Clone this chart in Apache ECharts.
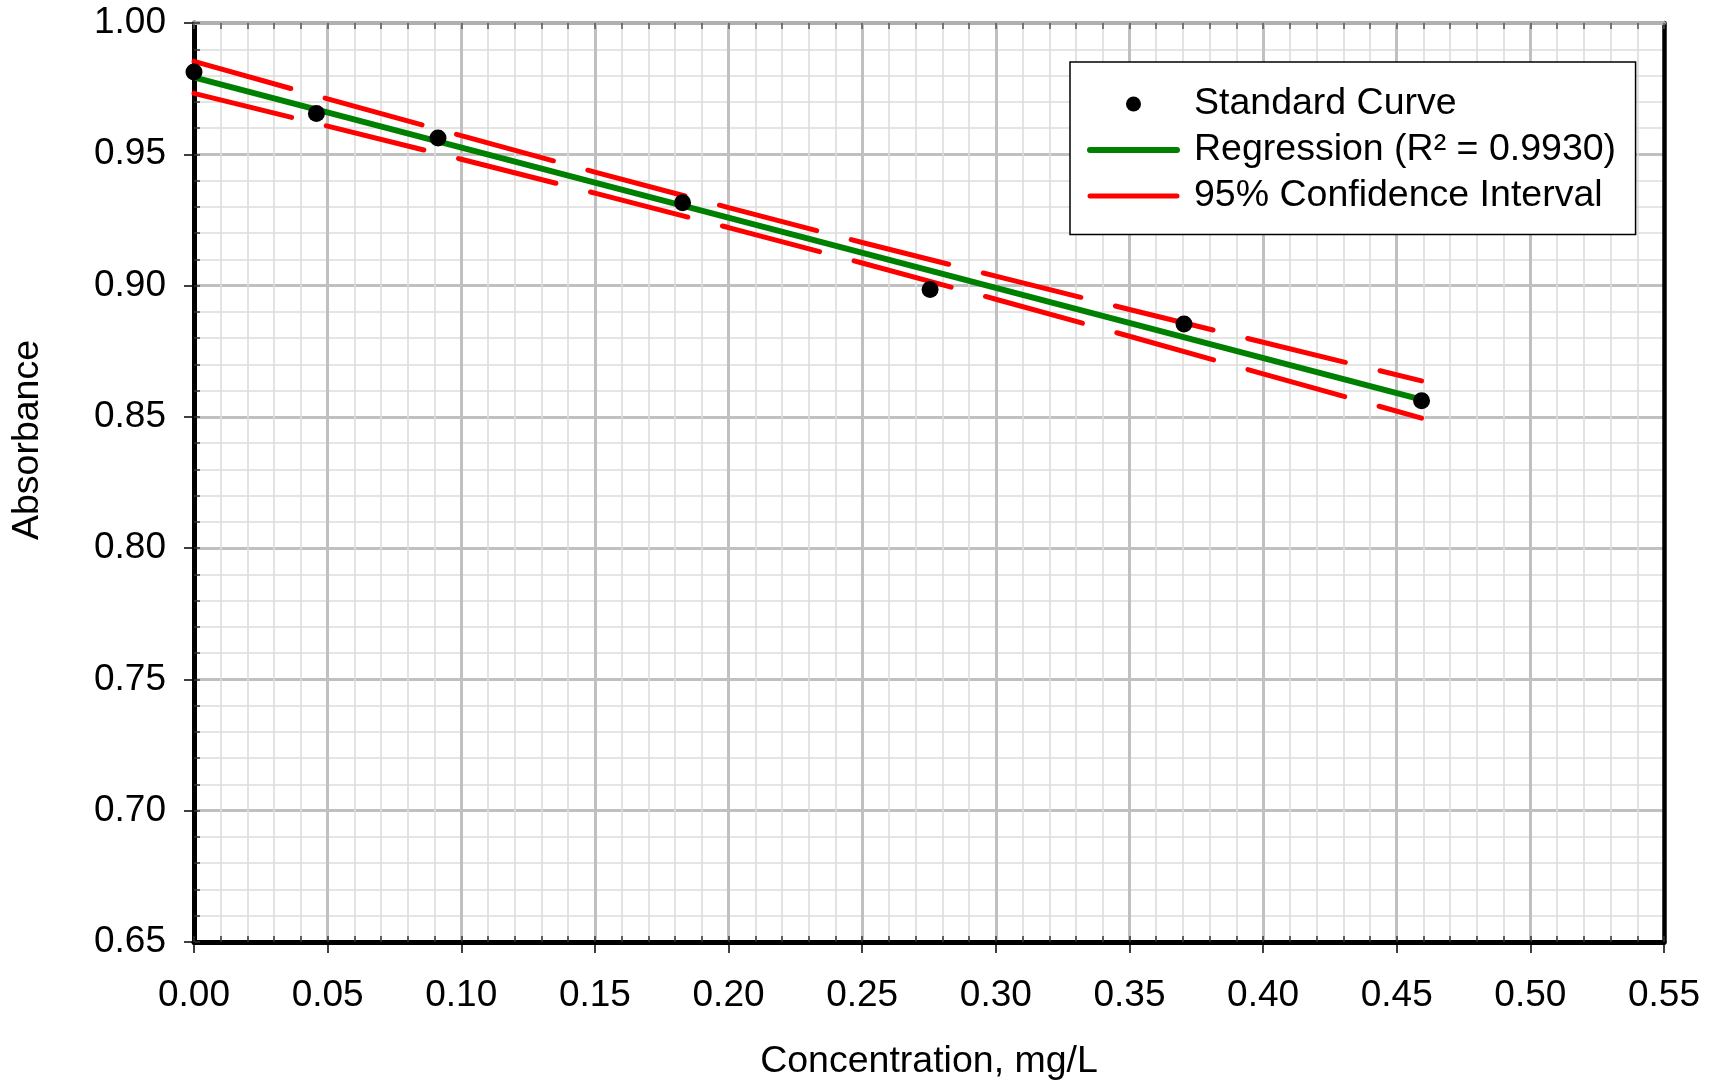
<!DOCTYPE html>
<html>
<head>
<meta charset="utf-8">
<script src="https://cdn.jsdelivr.net/npm/echarts@6/dist/echarts.min.js"></script>
<style>
html,body{margin:0;padding:0;background:#fff;}
#chart{width:1717px;height:1082px;}
</style>
</head>
<body>
<div id="chart"></div>
<script>
// ---- data ----
const concentration = [0, 0.0458, 0.0913, 0.1828, 0.2754, 0.3704, 0.4593];
const absorbance    = [0.9813, 0.9655, 0.9562, 0.9315, 0.8985, 0.8854, 0.8561];
const regressionX   = [0, 0.4593];
const regressionY   = [0.9793, 0.8566];
const ciX     = [0, 0.05, 0.10, 0.15, 0.20, 0.25, 0.30, 0.35, 0.40, 0.4593];
const ciUpper = [0.9854, 0.9711, 0.9571, 0.9432, 0.9297, 0.9164, 0.9036, 0.8909, 0.8784, 0.8637];
const ciLower = [0.9732, 0.9607, 0.9481, 0.9352, 0.9221, 0.9086, 0.8948, 0.8807, 0.8664, 0.8495];
const seriesNames = ['Standard Curve', 'Regression (R\u00B2 = 0.9930)', '95% Confidence Interval'];
const xTitle = 'Concentration, mg/L';
const yTitle = 'Absorbance';

const FONT = 'Liberation Sans, Arial, sans-serif';
const pairs = (xs, ys) => xs.map((x, i) => [x, ys[i]]);

const chart = echarts.init(document.getElementById('chart'), null, {renderer: 'canvas'});

const common = {min: 0, max: 0.55, type: 'value'};
const commonY = {min: 0.65, max: 1.0, type: 'value'};
const GREEN = '#008000', RED = '#ff0000';

const option = {
  animation: false,
  backgroundColor: '#ffffff',
  grid: {left: 194, top: 23, right: 53, bottom: 140, outerBoundsMode: 'none', containLabel: false},
  legend: {
    left: 1070, top: 62, orient: 'vertical',
    backgroundColor: '#ffffff', borderColor: '#000000', borderWidth: 1.5, borderRadius: 0,
    padding: [19, 19.5, 15.5, 17], itemGap: 0, itemWidth: 87, itemHeight: 15,
    selectedMode: false,
    textStyle: {fontFamily: FONT, fontSize: 37.5, color: '#000', lineHeight: 46, padding: [0, 0, 0, 12]},
    data: [
      {name: seriesNames[0], icon: 'circle', itemStyle: {color: '#000', opacity: 1}},
      {name: seriesNames[1], itemStyle: {opacity: 0},
       lineStyle: {color: GREEN, width: 6, cap: 'round', type: 'solid'}},
      {name: seriesNames[2], itemStyle: {opacity: 0},
       lineStyle: {color: RED, width: 5, cap: 'round', type: 'solid'}}
    ]
  },
  xAxis: [
    Object.assign({}, common, {
      position: 'bottom', interval: 0.05,
      axisLine: {show: true, onZero: false, lineStyle: {color: '#000', width: 5}},
      axisTick: {show: true, inside: false, length: 11, lineStyle: {color: '#000', width: 1.5}},
      axisLabel: {show: true, margin: 35, fontFamily: FONT, fontSize: 37, color: '#000',
                  formatter: v => v.toFixed(2)},
      splitLine: {show: true, lineStyle: {color: '#c0c0c0', width: 3}},
      minorTick: {show: false, splitNumber: 5},
      minorSplitLine: {show: true, lineStyle: {color: '#dcdcdc', width: 1.6}},
      name: xTitle, nameLocation: 'middle', nameGap: 101,
      nameTextStyle: {fontFamily: FONT, fontSize: 37.5, color: '#000'}
    }),
    Object.assign({}, common, {
      position: 'bottom', interval: 0.01,
      axisLine: {show: false, onZero: false},
      axisTick: {show: true, inside: true, length: 6, lineStyle: {color: '#333', width: 1.5}},
      axisLabel: {show: false}, splitLine: {show: false}
    }),
    Object.assign({}, common, {
      position: 'top', interval: 0.01,
      axisLine: {show: true, onZero: false, lineStyle: {color: '#b0b0b0', width: 4}},
      axisTick: {show: true, inside: true, length: 6, lineStyle: {color: '#555', width: 1.5}},
      axisLabel: {show: false}, splitLine: {show: false}
    })
  ],
  yAxis: [
    Object.assign({}, commonY, {
      position: 'left', interval: 0.05,
      axisLine: {show: true, onZero: false, lineStyle: {color: '#000', width: 5}},
      axisTick: {show: true, inside: false, length: 10, lineStyle: {color: '#000', width: 1.5}},
      axisLabel: {show: true, margin: 28, fontFamily: FONT, fontSize: 37, color: '#000',
                  formatter: v => v.toFixed(2)},
      splitLine: {show: true, lineStyle: {color: '#c0c0c0', width: 3}},
      minorTick: {show: false, splitNumber: 5},
      minorSplitLine: {show: true, lineStyle: {color: '#dcdcdc', width: 1.6}}
    }),
    Object.assign({}, commonY, {
      position: 'left', interval: 0.01,
      axisLine: {show: false, onZero: false},
      axisTick: {show: true, inside: true, length: 6, lineStyle: {color: '#333', width: 1.5}},
      axisLabel: {show: false}, splitLine: {show: false}
    }),
    Object.assign({}, commonY, {
      position: 'right', interval: 0.05,
      axisLine: {show: true, onZero: false, lineStyle: {color: '#000', width: 4.5}},
      axisTick: {show: false}, axisLabel: {show: false}, splitLine: {show: false}
    })
  ],
  graphic: [
    {type: 'text', x: 28, y: 440, rotation: Math.PI / 2,
     style: {text: yTitle, font: '37.5px ' + FONT, fill: '#000', align: 'center', verticalAlign: 'middle'}}
  ],
  series: [
    {
      name: seriesNames[1], type: 'line', data: pairs(regressionX, regressionY),
      xAxisIndex: 0, yAxisIndex: 0, symbol: 'none', z: 2,
      lineStyle: {color: GREEN, width: 6, cap: 'butt'},
      itemStyle: {color: GREEN}, emphasis: {disabled: true}
    },
    {
      name: seriesNames[2], type: 'line', data: pairs(ciX, ciUpper),
      xAxisIndex: 0, yAxisIndex: 0, symbol: 'none', z: 3,
      lineStyle: {color: RED, width: 5, type: [100.5, 35.7], cap: 'round'},
      itemStyle: {color: RED}, emphasis: {disabled: true}
    },
    {
      name: seriesNames[2], type: 'line', data: pairs(ciX, ciLower),
      xAxisIndex: 0, yAxisIndex: 0, symbol: 'none', z: 3,
      lineStyle: {color: RED, width: 5, type: [100.5, 35.7], cap: 'round'},
      itemStyle: {color: RED}, emphasis: {disabled: true}
    },
    {
      name: seriesNames[0], type: 'scatter', data: pairs(concentration, absorbance),
      xAxisIndex: 0, yAxisIndex: 0, symbol: 'circle', symbolSize: 17, z: 5,
      itemStyle: {color: '#000000', opacity: 1}, emphasis: {disabled: true}
    }
  ]
};
chart.setOption(option);
</script>
</body>
</html>
